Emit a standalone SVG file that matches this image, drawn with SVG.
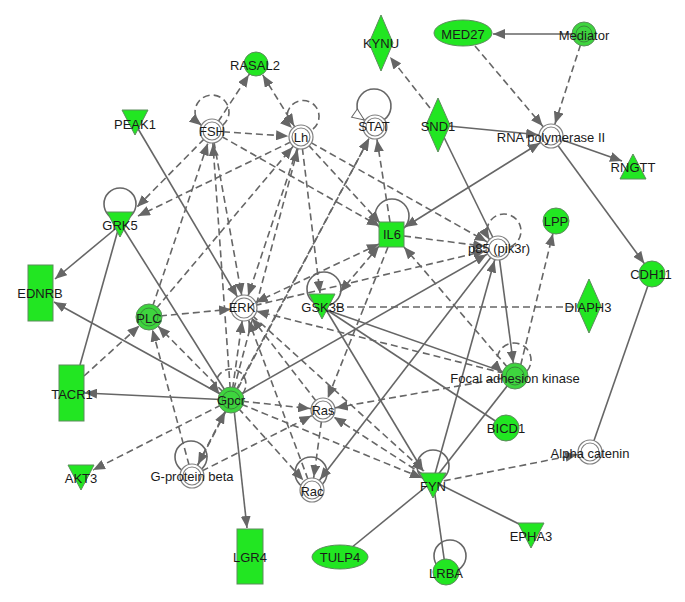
<svg xmlns="http://www.w3.org/2000/svg" width="685" height="602" viewBox="0 0 685 602">
<defs>
<style>
.e{fill:none;stroke:#666;stroke-width:1.6}
.d{stroke-dasharray:7 4}
.g{fill:#22e622;stroke:#5c8c5c;stroke-width:1}
.gc{fill:#3ed43e;stroke:#5c8c5c;stroke-width:1}
.ir{fill:none;stroke:#3a8a3a;stroke-width:1}
.w{fill:#fff;stroke:#808080;stroke-width:1.2}
.wi{fill:none;stroke:#808080;stroke-width:1.2}
text{font-family:"Liberation Sans",Arial,sans-serif;font-size:13px;fill:#1a1a1a;text-anchor:middle}
</style>
<marker id="a" markerUnits="userSpaceOnUse" markerWidth="12" markerHeight="10" viewBox="0 0 12 10" refX="12" refY="5" orient="auto-start-reverse"><path d="M0,0L12,5L0,10z" fill="#666"/></marker>
<marker id="c" markerUnits="userSpaceOnUse" markerWidth="12" markerHeight="10" viewBox="0 0 12 10" refX="25" refY="5" orient="auto-start-reverse"><path d="M0,0L12,5L0,10z" fill="#666"/></marker>
<marker id="o" markerUnits="userSpaceOnUse" markerWidth="14" markerHeight="12" viewBox="-1 -1 14 12" refX="12" refY="5" orient="auto"><path d="M0,0L12,5L0,10z" fill="#fff" stroke="#666" stroke-width="1"/></marker>
</defs>
<rect width="685" height="602" fill="#fff"/>
<g id="connectors">
<path class="e" d="M572,34L493,34" marker-end="url(#a)"/>
<path class="e" d="M438,125L551,136" marker-end="url(#c)"/>
<path class="e" d="M405,227L551,136" marker-start="url(#a)" marker-end="url(#c)"/>
<path class="e" d="M551,136L622,161" marker-end="url(#a)"/>
<path class="e" d="M551,136L652,274" marker-end="url(#c)"/>
<path class="e" d="M438,125L498,248"/>
<path class="e" d="M652,274L590,452"/>
<path class="e" d="M433,481L531,530"/>
<path class="e" d="M433,481L446,572"/>
<path class="e" d="M433,481L340,557"/>
<circle class="e" cx="450" cy="556" r="16"/>
<circle class="e" cx="433" cy="466" r="16"/>
<path class="e" d="M233,400L247,528" marker-end="url(#a)"/>
<path class="e" d="M231,400L85,393" marker-end="url(#a)"/>
<path class="e" d="M231,400L54,302" marker-end="url(#a)"/>
<path class="e" d="M120,225L55,279" marker-end="url(#a)"/>
<path class="e" d="M80,365L118,230"/>
<path class="e" d="M123,228L231,400"/>
<circle class="e" cx="120" cy="204" r="16"/>
<path class="e" d="M137,127L244,308" marker-end="url(#c)"/>
<circle class="e" cx="324" cy="289" r="17"/>
<circle class="e" cx="392" cy="216" r="17"/>
<path class="e" d="M327,310L515,376"/>
<path class="e" d="M327,310L506,428"/>
<path class="e" d="M325,308L423,471" marker-end="url(#a)"/>
<path class="e" d="M383.7,120A17,17 0 1 0 364.3,120" marker-end="url(#o)"/>
<path class="e" d="M498,248L515,376" marker-end="url(#c)"/>
<path class="e" d="M433,481L498,248" marker-end="url(#c)"/>
<path class="e" d="M433,481L515,376"/>
<path class="e" d="M498,248L312,490" marker-end="url(#c)"/>
<path class="e" d="M231,400L498,248" marker-end="url(#c)"/>
<circle class="e" cx="311" cy="473" r="16"/>
<circle class="e" cx="191" cy="457" r="16"/>
<path class="e d" d="M475,46L551,136" marker-end="url(#c)"/>
<path class="e d" d="M584,34L551,136" marker-end="url(#c)"/>
<path class="e d" d="M430,108L390,57" marker-end="url(#a)"/>
<path class="e d" d="M222.6,125.3A17,17 0 1 0 201.4,125.3" marker-end="url(#a)"/>
<path class="e d" d="M313,129A16,16 0 1 0 292,128" marker-end="url(#a)"/>
<path class="e d" d="M212,131L256,64" marker-end="url(#c)"/>
<path class="e d" d="M301,137L256,64" marker-start="url(#c)" marker-end="url(#c)"/>
<path class="e d" d="M212,131L301,137" marker-end="url(#c)"/>
<path class="e d" d="M212,131L137,207" marker-end="url(#a)"/>
<path class="e d" d="M301,137L138,216" marker-end="url(#a)"/>
<path class="e d" d="M212,131L244,308" marker-end="url(#c)"/>
<path class="e d" d="M301,137L244,308" marker-end="url(#c)"/>
<path class="e d" d="M212,131L379,226" marker-end="url(#a)"/>
<path class="e d" d="M301,137L380,223" marker-end="url(#a)"/>
<path class="e d" d="M301,137L498,248" marker-end="url(#c)"/>
<path class="e d" d="M149,317L212,131" marker-end="url(#c)"/>
<path class="e d" d="M149,317L301,137" marker-end="url(#c)"/>
<path class="e d" d="M149,317L244,308" marker-end="url(#c)"/>
<path class="e d" d="M231,400L212,131" marker-end="url(#c)"/>
<path class="e d" d="M231,400L301,137" marker-end="url(#c)"/>
<path class="e d" d="M231,400L375,127" marker-end="url(#c)"/>
<path class="e d" d="M192,476L375,127" marker-end="url(#c)"/>
<path class="e d" d="M390,222L375,127" marker-end="url(#c)"/>
<path class="e d" d="M404,236L498,248" marker-end="url(#c)"/>
<path class="e d" d="M379,246L340,292" marker-start="url(#a)" marker-end="url(#a)"/>
<path class="e d" d="M244,308L379,244" marker-start="url(#c)" marker-end="url(#a)"/>
<path class="e d" d="M515,376L404,247" marker-end="url(#a)"/>
<path class="e d" d="M336,307L577,307"/>
<path class="e d" d="M510,246.9A17,17 0 1 0 489.4,239.7" marker-end="url(#a)"/>
<path class="e d" d="M527,371A17,17 0 1 0 502.4,372.4" marker-end="url(#a)"/>
<path class="e d" d="M518,376L556,221" marker-end="url(#c)"/>
<path class="e d" d="M515,376L244,308" marker-end="url(#c)"/>
<path class="e d" d="M433,483L590,452" marker-end="url(#c)"/>
<path class="e d" d="M242.4,393.8A15,15 0 1 0 219.6,393.8" marker-end="url(#a)"/>
<path class="e d" d="M231,400L149,317" marker-end="url(#c)"/>
<path class="e d" d="M192,476L149,317" marker-end="url(#c)"/>
<path class="e d" d="M84,376L149,317" marker-end="url(#c)"/>
<path class="e d" d="M231,400L192,476" marker-start="url(#c)" marker-end="url(#c)"/>
<path class="e d" d="M231,400L93,470" marker-end="url(#a)"/>
<path class="e d" d="M192,476L323,410" marker-end="url(#c)"/>
<path class="e d" d="M231,400L323,410" marker-end="url(#c)"/>
<path class="e d" d="M231,400L312,490" marker-end="url(#c)"/>
<path class="e d" d="M231,400L422,478" marker-end="url(#a)"/>
<path class="e d" d="M323,410L312,490" marker-end="url(#c)"/>
<path class="e d" d="M323,410L244,308" marker-end="url(#c)"/>
<path class="e d" d="M312,490L244,308" marker-end="url(#c)"/>
<path class="e d" d="M244,308L424,471" marker-end="url(#a)"/>
<path class="e d" d="M515,376L323,410" marker-end="url(#c)"/>
<path class="e d" d="M433,481L323,410" marker-end="url(#c)"/>
<path class="e d" d="M388,247L323,410" marker-end="url(#c)"/>
<path class="e d" d="M301,137L320,293" marker-end="url(#a)"/>
<path class="e d" d="M231,400L244,308" marker-end="url(#c)"/>
<path class="e d" d="M244,308L498,248" marker-end="url(#c)"/>
</g>
<g id="n-KYNU"><polygon class="g" points="381,15 393,43 381,71 369,43"/><text x="381" y="47.5">KYNU</text></g>
<g id="n-MED27"><ellipse class="g" cx="463" cy="33" rx="29" ry="13"/><text x="463" y="38.5">MED27</text></g>
<g id="n-Mediator"><circle class="gc" cx="584" cy="34" r="12"/><circle class="ir" cx="584" cy="34" r="8"/><text x="584" y="39.5">Mediator</text></g>
<g id="n-RNApol"><circle class="w" cx="551" cy="136" r="12"/><circle class="wi" cx="551" cy="136" r="9"/><text x="551" y="141.5">RNA polymerase II</text></g>
<g id="n-RNGTT"><polygon class="g" points="620,179 646,179 633,154"/><text x="633" y="171.5">RNGTT</text></g>
<g id="n-SND1"><polygon class="g" points="438,98 450,125 438,152 426,125"/><text x="438" y="130.5">SND1</text></g>
<g id="n-STAT"><circle class="w" cx="375" cy="127" r="12"/><circle class="wi" cx="375" cy="127" r="9"/><text x="374" y="130.5">STAT</text></g>
<g id="n-Lh"><circle class="w" cx="301" cy="137" r="12"/><circle class="wi" cx="301" cy="137" r="9"/><text x="301" y="141.5">Lh</text></g>
<g id="n-FSH"><circle class="w" cx="212" cy="131" r="12"/><circle class="wi" cx="212" cy="131" r="9"/><text x="212" y="135.5">FSH</text></g>
<g id="n-RASAL2"><circle class="g" cx="256" cy="64" r="12"/><text x="255" y="69.5">RASAL2</text></g>
<g id="n-PEAK1"><polygon class="g" points="122,110 148,110 135,135"/><text x="135" y="128.5">PEAK1</text></g>
<g id="n-GRK5"><polygon class="g" points="107,212 133,212 120,237"/><text x="120" y="229.5">GRK5</text></g>
<g id="n-EDNRB"><rect class="g" x="28" y="265" width="25" height="56"/><text x="40" y="297.5">EDNRB</text></g>
<g id="n-PLC"><circle class="gc" cx="149" cy="317" r="13"/><circle class="ir" cx="149" cy="317" r="9"/><text x="149" y="322.5">PLC</text></g>
<g id="n-TACR1"><rect class="g" x="59" y="365" width="25" height="56"/><text x="72" y="398.5">TACR1</text></g>
<g id="n-ERK"><circle class="w" cx="244" cy="308" r="13"/><circle class="wi" cx="244" cy="308" r="10"/><text x="242" y="311.5">ERK</text></g>
<g id="n-GSK3B"><polygon class="g" points="309,294 335,294 322,319"/><text x="323" y="311.5">GSK3B</text></g>
<g id="n-IL6"><rect class="g" x="379" y="222" width="25" height="25"/><text x="392" y="238.5">IL6</text></g>
<g id="n-p85"><circle class="w" cx="498" cy="248" r="12"/><circle class="wi" cx="498" cy="248" r="9"/><text x="499" y="252.5">p85 (pik3r)</text></g>
<g id="n-LPP"><circle class="g" cx="556" cy="221" r="13"/><text x="556" y="225.5">LPP</text></g>
<g id="n-CDH11"><circle class="g" cx="652" cy="274" r="13"/><text x="651" y="278.5">CDH11</text></g>
<g id="n-DIAPH3"><polygon class="g" points="589,279 601,306 589,333 577,306"/><text x="588" y="311.5">DIAPH3</text></g>
<g id="n-FAK"><circle class="gc" cx="515" cy="376" r="13"/><circle class="ir" cx="515" cy="376" r="9"/><text x="515" y="382.5">Focal adhesion kinase</text></g>
<g id="n-BICD1"><circle class="g" cx="506" cy="428" r="13"/><text x="506" y="432.5">BICD1</text></g>
<g id="n-AlphaCatenin"><circle class="w" cx="590" cy="452" r="12"/><circle class="wi" cx="590" cy="452" r="9"/><text x="590" y="457.5">Alpha catenin</text></g>
<g id="n-Gpcr"><circle class="gc" cx="231" cy="400" r="13"/><circle class="ir" cx="231" cy="400" r="9"/><text x="231" y="404.5">Gpcr</text></g>
<g id="n-Ras"><circle class="w" cx="323" cy="410" r="12"/><circle class="wi" cx="323" cy="410" r="9"/><text x="323" y="414.5">Ras</text></g>
<g id="n-Rac"><circle class="w" cx="312" cy="490" r="12"/><circle class="wi" cx="312" cy="490" r="9"/><text x="312" y="495.5">Rac</text></g>
<g id="n-Gbeta"><circle class="w" cx="192" cy="476" r="12"/><circle class="wi" cx="192" cy="476" r="9"/><text x="192" y="480.5">G-protein beta</text></g>
<g id="n-AKT3"><polygon class="g" points="68,465 94,465 81,490"/><text x="81" y="482.5">AKT3</text></g>
<g id="n-FYN"><polygon class="g" points="420,473 446,473 433,498"/><text x="433" y="490.5">FYN</text></g>
<g id="n-EPHA3"><polygon class="g" points="518,523 544,523 531,548"/><text x="531" y="540.5">EPHA3</text></g>
<g id="n-TULP4"><ellipse class="g" cx="340" cy="557" rx="28" ry="12"/><text x="340" y="561.5">TULP4</text></g>
<g id="n-LGR4"><rect class="g" x="237" y="529" width="26" height="55"/><text x="250" y="561.5">LGR4</text></g>
<g id="n-LRBA"><circle class="g" cx="446" cy="572" r="13"/><text x="446" y="577.5">LRBA</text></g>
</svg>
